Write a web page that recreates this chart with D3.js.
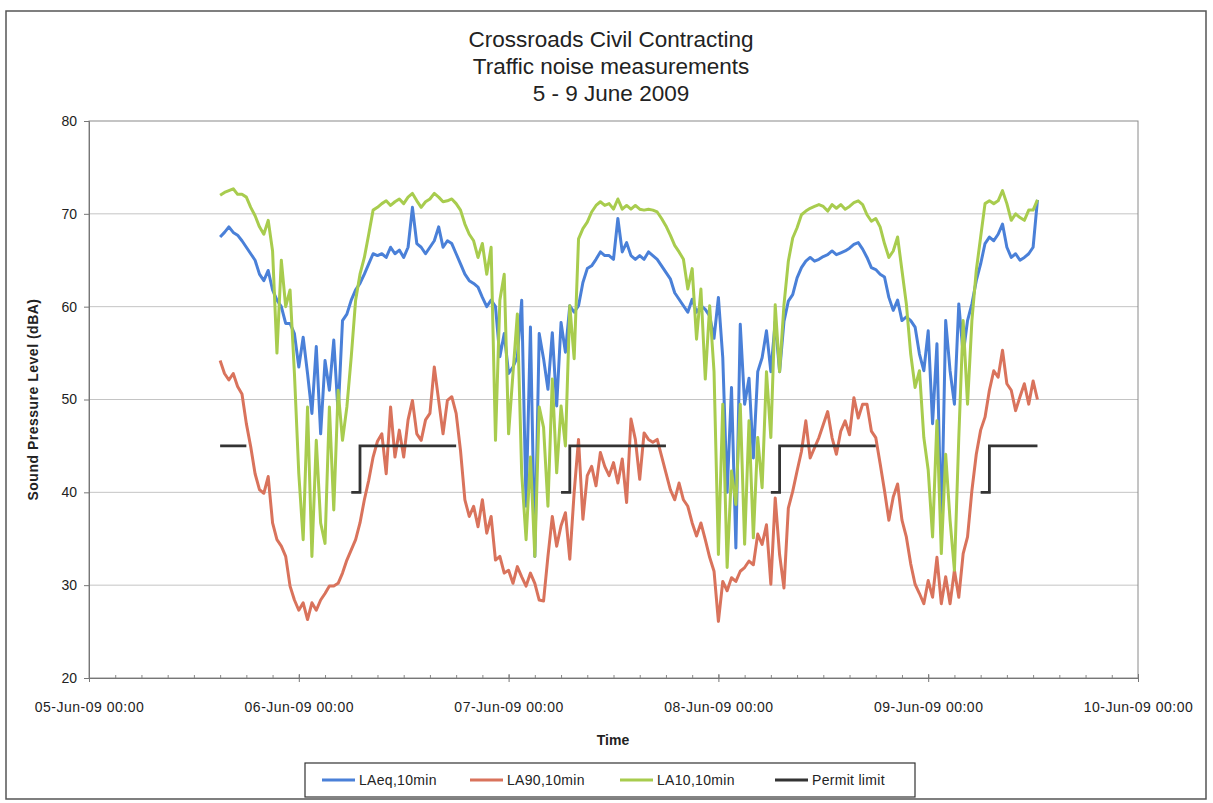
<!DOCTYPE html>
<html>
<head>
<meta charset="utf-8">
<script src="https://cdn.jsdelivr.net/npm/d3@7"></script>
<style>
  body { margin: 0; background: #fff; }
  text { font-family: "Liberation Sans", Arial, sans-serif; fill: #222; }
</style>
</head>
<body>
<div class="canvas"></div>
<script>
// readings every 30 min, starting 5 Jun 2009 15:00
const seriesStart = new Date(2009, 5, 5, 15, 0);
const stepMinutes = 30;

const laeq = [
  67.5, 68.0, 68.6, 68.0, 67.7, 67.1, 66.4, 65.7, 65.0, 63.5, 62.8, 63.9, 61.8, 60.7, 60.0, 58.2, 58.2, 57.1,
  53.5, 56.7, 52.8, 48.5, 55.7, 46.3, 54.2, 51.0, 56.4, 48.5, 58.5, 59.2, 60.7, 61.8, 62.5, 63.5, 64.6, 65.7,
  65.5, 65.7, 65.3, 66.4, 65.7, 66.1, 65.3, 66.4, 70.7, 66.8, 66.4, 65.7, 66.4, 67.1, 68.6, 66.4, 67.1, 66.8,
  65.7, 64.6, 63.5, 62.8, 62.5, 62.1, 61.0, 60.0, 60.7, 60.0, 54.6, 57.1, 52.8, 53.5, 54.6, 60.7, 38.5, 57.8,
  33.1, 57.1, 54.4, 51.1, 57.2, 49.3, 58.3, 55.1, 60.1, 59.4, 60.1, 62.6, 64.1, 64.4, 65.1, 65.9, 65.5, 65.5,
  65.1, 69.5, 65.9, 66.9, 65.5, 65.1, 65.5, 65.1, 65.9, 65.5, 65.1, 64.4, 63.7, 63.0, 61.5, 60.8, 60.1, 59.4,
  60.8, 59.4, 60.1, 59.7, 59.0, 56.6, 61.0, 54.5, 40.0, 51.3, 34.0, 58.1, 49.5, 52.3, 43.7, 53.0, 54.5, 57.4,
  53.0, 58.4, 53.0, 58.4, 60.6, 61.3, 63.1, 64.2, 64.9, 65.3, 64.9, 65.1, 65.4, 65.6, 66.0, 65.6, 65.8, 66.0,
  66.3, 66.7, 66.9, 66.2, 65.3, 64.2, 64.0, 63.5, 63.2, 61.0, 59.6, 60.7, 58.5, 58.9, 58.5, 57.8, 54.9, 53.1,
  57.4, 47.4, 56.0, 35.5, 58.5, 53.1, 49.5, 60.3, 54.9, 58.5, 60.3, 62.8, 64.6, 66.8, 67.5, 67.1, 67.8, 68.9,
  66.4, 65.3, 65.7, 65.0, 65.3, 65.7, 66.4, 71.5
];

const la90 = [
  54.2, 52.8, 52.1, 52.8, 51.4, 50.6, 47.4, 44.9, 42.0, 40.3, 39.9, 41.7, 36.7, 34.9, 34.2, 33.1, 29.9, 28.4,
  27.3, 28.1, 26.3, 28.1, 27.3, 28.4, 29.1, 29.9, 29.9, 30.2, 31.3, 32.7, 33.8, 34.9, 36.7, 39.2, 41.3, 43.8,
  45.5, 46.3, 42.0, 49.2, 43.8, 46.7, 43.8, 47.8, 49.9, 46.3, 45.6, 47.8, 48.5, 53.5, 49.9, 46.3, 49.9, 50.3,
  48.5, 44.5, 39.2, 37.4, 38.5, 36.3, 39.2, 35.6, 37.4, 32.7, 33.1, 31.3, 31.6, 30.2, 32.0, 30.9, 29.9, 31.3,
  30.2, 28.4, 28.3, 33.1, 37.4, 34.2, 36.4, 37.8, 32.8, 40.0, 45.7, 37.1, 41.8, 42.8, 40.7, 44.3, 42.8, 41.8,
  43.2, 41.0, 43.6, 38.9, 47.9, 45.7, 41.4, 46.4, 45.7, 45.4, 45.7, 43.9, 42.1, 40.3, 39.2, 41.0, 39.2, 38.5,
  36.7, 35.3, 36.7, 34.9, 33.0, 31.5, 26.1, 30.4, 29.4, 30.8, 30.4, 31.5, 31.9, 32.6, 32.2, 35.5, 34.4, 36.5,
  30.1, 39.4, 33.3, 29.7, 38.3, 40.1, 42.3, 44.4, 47.7, 43.7, 44.8, 45.9, 47.3, 48.7, 45.9, 44.1, 46.6, 47.7,
  46.2, 50.2, 48.0, 49.5, 49.5, 46.6, 45.9, 43.1, 40.2, 37.0, 39.5, 40.9, 37.0, 35.2, 32.3, 30.1, 29.1, 28.0,
  30.5, 28.7, 33.0, 28.0, 30.9, 28.0, 31.6, 28.7, 33.4, 35.2, 40.2, 44.1, 46.7, 48.1, 51.0, 53.1, 52.4, 55.3,
  51.7, 51.0, 48.8, 50.3, 51.7, 49.5, 52.0, 50.0
];

const la10 = [
  72.0, 72.3, 72.5, 72.7, 72.1, 72.1, 71.8, 70.7, 69.8, 68.6, 67.8, 69.3, 66.0, 55.0, 65.0, 60.0, 61.8, 52.8,
  42.0, 34.9, 49.2, 33.1, 45.6, 36.7, 34.5, 49.2, 38.1, 51.0, 45.6, 49.2, 54.6, 60.7, 63.5, 65.3, 67.8, 70.4,
  70.7, 71.1, 71.4, 70.9, 71.3, 71.6, 71.1, 71.8, 72.2, 71.4, 70.7, 71.3, 71.6, 72.2, 71.8, 71.3, 71.4, 71.6,
  71.1, 70.4, 68.9, 67.8, 67.1, 65.3, 66.8, 63.5, 66.4, 45.6, 60.7, 63.5, 46.3, 52.8, 59.2, 42.0, 34.9, 43.8,
  33.1, 49.2, 47.0, 38.5, 52.2, 42.1, 49.3, 45.0, 60.1, 54.4, 67.3, 68.4, 69.1, 70.2, 70.9, 71.3, 70.9, 71.1,
  70.5, 71.6, 70.5, 70.9, 70.5, 70.9, 70.5, 70.4, 70.5, 70.4, 70.2, 69.5, 68.7, 67.7, 66.6, 65.9, 65.1, 61.9,
  64.1, 56.5, 61.9, 52.2, 60.1, 53.0, 33.3, 49.5, 31.9, 42.3, 38.7, 49.5, 34.4, 47.7, 35.1, 45.9, 40.5, 53.0,
  45.9, 60.2, 53.0, 60.2, 64.9, 67.4, 68.5, 69.9, 70.3, 70.6, 70.8, 71.0, 70.8, 70.3, 71.0, 70.6, 71.0, 70.5,
  70.8, 71.2, 71.4, 71.0, 69.9, 69.2, 69.5, 68.6, 66.8, 65.3, 66.0, 67.5, 63.9, 60.3, 54.9, 51.3, 53.1, 45.9,
  42.4, 35.2, 47.7, 33.4, 44.1, 37.0, 31.6, 45.9, 58.5, 49.5, 58.5, 63.9, 67.5, 71.1, 71.4, 71.1, 71.4, 72.5,
  71.1, 69.3, 70.0, 69.6, 69.3, 70.4, 70.4, 71.5
];

// permit limit: 40 dBA 06:00-07:00, 45 dBA 07:00-18:00, none at night
const permitTimes = [
  '2009-06-05 15:00', '2009-06-05 18:00', '2009-06-05 18:10',
  '2009-06-06 06:00', '2009-06-06 07:00', '2009-06-06 18:00', '2009-06-06 18:10',
  '2009-06-07 06:00', '2009-06-07 07:00', '2009-06-07 18:00', '2009-06-07 18:10',
  '2009-06-08 06:00', '2009-06-08 07:00', '2009-06-08 18:00', '2009-06-08 18:10',
  '2009-06-09 06:00', '2009-06-09 07:00', '2009-06-09 12:30'
];
const permitValues = [
  45, 45, null,
  40, 45, 45, null,
  40, 45, 45, null,
  40, 45, 45, null,
  40, 45, 45
];

const yTicks = [20, 30, 40, 50, 60, 70, 80];
const titleLines = ['Crossroads Civil Contracting', 'Traffic noise measurements', '5 - 9 June 2009'];
const seriesNames = ['LAeq,10min', 'LA90,10min', 'LA10,10min', 'Permit limit'];
const seriesColors = ['#4a80d8', '#d9735c', '#a8cc4e', '#333333'];

const width = 1213, height = 803;
const margin = { top: 121, right: 75, bottom: 125, left: 89 };
const graphWidth = width - margin.left - margin.right;
const graphHeight = height - margin.top - margin.bottom;

const svg = d3.select('.canvas')
  .append('svg')
  .attr('width', width)
  .attr('height', height);

// outer frame of the chart
svg.append('rect')
  .attr('x', 6).attr('y', 11)
  .attr('width', 1200).attr('height', 788)
  .attr('fill', 'none')
  .attr('stroke', '#555')
  .attr('stroke-width', 1.5);

svg.selectAll('.title')
  .data(titleLines)
  .enter().append('text')
  .attr('class', 'title')
  .attr('x', 611)
  .attr('y', (d, i) => 47 + i * 27)
  .attr('text-anchor', 'middle')
  .attr('font-size', 22.5)
  .attr('fill', '#333')
  .text(d => d);

const graph = svg.append('g')
  .attr('transform', `translate(${margin.left}, ${margin.top})`);

const x = d3.scaleTime()
  .domain([new Date(2009, 5, 5), new Date(2009, 5, 10)])
  .range([0, graphWidth]);

const y = d3.scaleLinear()
  .domain([20, 80])
  .range([graphHeight, 0]);

// gridlines
graph.selectAll('.grid')
  .data(yTicks.slice(1, -1))
  .enter().append('line')
  .attr('x1', 0).attr('x2', graphWidth)
  .attr('y1', d => y(d)).attr('y2', d => y(d))
  .attr('stroke', '#c4c4c4')
  .attr('stroke-width', 1);

// plot area border
graph.append('rect')
  .attr('width', graphWidth).attr('height', graphHeight)
  .attr('fill', 'none')
  .attr('stroke', '#8a8a8a')
  .attr('stroke-width', 1);

// x axis: minor ticks every 3 hours, labels each day
const xAxisGroup = graph.append('g')
  .attr('transform', `translate(0, ${graphHeight})`);
xAxisGroup.call(d3.axisBottom(x).ticks(d3.timeHour.every(3)).tickSize(-3).tickFormat(''));
xAxisGroup.call(g => g.select('.domain').attr('stroke', '#777'));
xAxisGroup.selectAll('.tick line').attr('stroke', '#888');

const xMajor = graph.append('g')
  .attr('transform', `translate(0, ${graphHeight})`)
  .call(d3.axisBottom(x).ticks(d3.timeDay.every(1)).tickSize(4)
    .tickFormat(d3.timeFormat('%d-%b-%y %H:%M')));
xMajor.select('.domain').remove();
xMajor.selectAll('.tick line').attr('stroke', '#777').attr('y1', -4);
xMajor.selectAll('text')
  .attr('y', 24)
  .attr('font-size', 14)
  .attr('letter-spacing', 0.5)
  .attr('font-family', '"Liberation Sans", Arial, sans-serif')
  .attr('fill', '#333');

const yAxisGroup = graph.append('g')
  .call(d3.axisLeft(y).tickValues(yTicks).tickSize(5).tickPadding(7));
yAxisGroup.select('.domain').attr('stroke', '#777');
yAxisGroup.selectAll('.tick line').attr('stroke', '#777');
yAxisGroup.selectAll('text')
  .attr('font-size', 14)
  .attr('font-family', '"Liberation Sans", Arial, sans-serif')
  .attr('fill', '#444');

// axis titles
svg.append('text')
  .attr('transform', `translate(38, ${margin.top + graphHeight / 2}) rotate(-90)`)
  .attr('text-anchor', 'middle')
  .attr('font-size', 14)
  .attr('letter-spacing', 0.5)
  .attr('font-weight', 'bold')
  .attr('fill', '#333')
  .text('Sound Pressure Level (dBA)');

svg.append('text')
  .attr('x', 613).attr('y', 745)
  .attr('text-anchor', 'middle')
  .attr('font-size', 14)
  .attr('font-weight', 'bold')
  .attr('fill', '#333')
  .text('Time');

// series
const timeAt = i => d3.timeMinute.offset(seriesStart, i * stepMinutes);
const toPoints = arr => arr.map((v, i) => ({ t: timeAt(i), v }));

const line = d3.line()
  .x(d => x(d.t))
  .y(d => y(d.v));

const series = [laeq, la90, la10];
series.forEach((s, i) => {
  graph.append('path')
    .datum(toPoints(s))
    .attr('d', line)
    .attr('fill', 'none')
    .attr('stroke', seriesColors[i])
    .attr('stroke-width', 3)
    .attr('stroke-linejoin', 'round');
});

const parseTime = d3.timeParse('%Y-%m-%d %H:%M');
const permitPoints = permitTimes.map((t, i) => ({ t: parseTime(t), v: permitValues[i] }));
graph.append('path')
  .datum(permitPoints)
  .attr('d', d3.line()
    .defined(d => d.v !== null)
    .curve(d3.curveStepAfter)
    .x(d => x(d.t))
    .y(d => y(d.v)))
  .attr('fill', 'none')
  .attr('stroke', seriesColors[3])
  .attr('stroke-width', 2.8);

// legend
const legend = svg.append('g')
  .attr('transform', 'translate(305, 763)');
legend.append('rect')
  .attr('width', 610).attr('height', 34)
  .attr('fill', '#fff')
  .attr('stroke', '#333')
  .attr('stroke-width', 1.2);

const legendX = [17, 165, 315, 470];
const items = legend.selectAll('.item')
  .data(seriesNames)
  .enter().append('g')
  .attr('transform', (d, i) => `translate(${legendX[i]}, 17)`);
items.append('line')
  .attr('x1', 0).attr('x2', 33)
  .attr('stroke', (d, i) => seriesColors[i])
  .attr('stroke-width', 2.8);
items.append('text')
  .attr('x', 37).attr('y', 5)
  .attr('font-size', 14)
  .attr('letter-spacing', 0.3)
  .attr('fill', '#333')
  .text(d => d);
</script>
</body>
</html>
